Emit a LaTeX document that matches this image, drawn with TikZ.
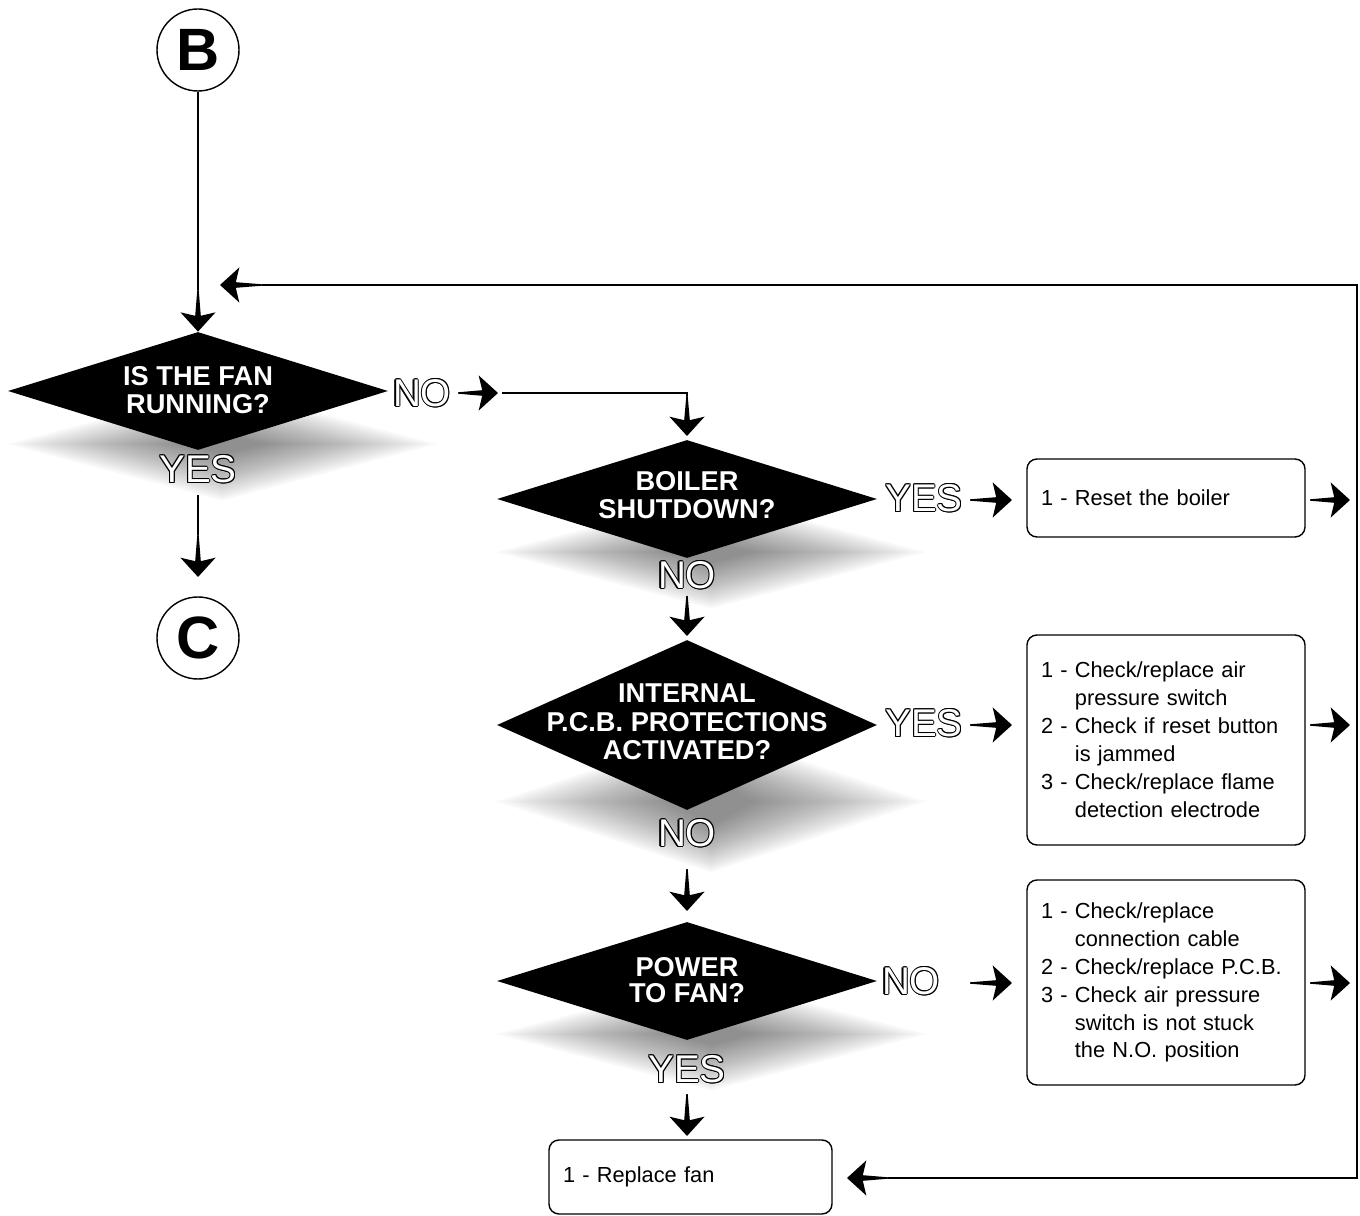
\documentclass[tikz,border=0pt]{standalone}
\usepackage{fontspec}
\setmainfont{Liberation Sans}
\usetikzlibrary{positioning,arrows.meta,shapes.geometric,calc,backgrounds}
\newcommand{\hollow}[1]{{\setbox0=\hbox{#1}%
  \rlap{\kern.6pt\copy0}\rlap{\kern-.6pt\copy0}%
  \rlap{\raise.6pt\copy0}\rlap{\raise-.6pt\copy0}%
  \rlap{\kern.42pt\raise.42pt\copy0}\rlap{\kern-.42pt\raise.42pt\copy0}%
  \rlap{\kern.42pt\raise-.42pt\copy0}\rlap{\kern-.42pt\raise-.42pt\copy0}%
  \textcolor{white}{#1}}}
\newcommand{\ind}{\hphantom{1 - }}

\begin{document}
\begin{tikzpicture}[x=0.2mm,y=-0.2mm,
  ask/.style={diamond, fill=black, inner sep=0pt, minimum width=76mm},
  asktext/.style={text=white, align=center, font=\fontsize{15.5}{16.3}\selectfont\bfseries},
  ans/.style={inner sep=0pt, font=\fontsize{22}{22}\selectfont},
  todo/.style={draw, line width=0.8pt, rounded corners=2mm, align=left, text width=50mm,
    inner xsep=2.8mm, font=\fontsize{12.4}{15.9}\selectfont},
  ring/.style={circle, draw, line width=0.8pt, minimum size=16.4mm, inner sep=0pt,
    font=\fontsize{34}{34}\selectfont\bfseries},
  wire/.style={line width=0.8pt},
  % tapered arrow with a fat head, drawn as one filled outline
  stub/.style={fill=black, to path={
    let \p1=(\tikztostart), \p2=(\tikztotarget),
        \n1={atan2(\y2-\y1,\x2-\x1)}, \n2={veclen(\x2-\x1,\y2-\y1)} in
    [shift={(\p1)}, rotate=\n1]
    (0pt,-0.4pt) -- ({\n2*1pt-9pt},-1.6pt) -- ({\n2*1pt-11pt},-10pt) -- ({\n2*1pt},0pt)
    -- ({\n2*1pt-11pt},10pt) -- ({\n2*1pt-9pt},1.6pt) -- (0pt,0.4pt) -- cycle}}]
\useasboundingbox (0,0) rectangle (1360,1216);

\node[ring] (B) at (198,50) {B};
\node[ring] (C) at (198,638) {C};

\node[ask, minimum height=23.6mm] (fan) at (198,391) {};
\node[asktext] (fanq) at (198,390) {IS THE FAN\\RUNNING?};
\node[ask, minimum height=23.6mm] (stop) at (687,499) {};
\node[asktext] (stopq) at (687,495) {BOILER\\SHUTDOWN?};
\node[ask, minimum height=34mm] (prot) at (687,725) {};
\node[asktext] (protq) at (687,722) {INTERNAL\\P.C.B. PROTECTIONS\\ACTIVATED?};
\node[ask, minimum height=23.6mm] (power) at (687,981) {};
\node[asktext, font=\fontsize{15.5}{14.5}\selectfont\bfseries] (powerq) at (687,980) {POWER\\TO FAN?};

% soft shadows under the questions
\begin{scope}[on background layer]
\foreach \d/\hh in {fan/59,stop/59,prot/85,power/59}{
  \begin{scope}[shift={($(\d)+(24,{0.9*\hh})$)}]
    \foreach \i in {0,...,23}
      \fill[black, opacity=0.022] ({-(215-7.5*\i)},0) -- (0,{-(0.55*\hh+24-2*\i)})
        -- ({215-7.5*\i},0) -- (0,{0.55*\hh+24-2*\i}) -- cycle;
  \end{scope}
}
\end{scope}

\node[ans] (fanno) at (422,393) {\hollow{NO}};
\node[ans] (fanyes) at (198,469) {\hollow{YES}};
\node[ans] (stopyes) at (924,498) {\hollow{YES}};
\node[ans] (stopno) at (687,575) {\hollow{NO}};
\node[ans] (protyes) at (924,723) {\hollow{YES}};
\node[ans] (protno) at (687,833) {\hollow{NO}};
\node[ans] (powerno) at (911,981) {\hollow{NO}};
\node[ans] (poweryes) at (687,1069) {\hollow{YES}};

\node[todo, minimum height=15.6mm] (reset) at (1166,498) {1 - Reset the boiler};
\node[todo, minimum height=42mm] (pcb) at (1166,740) {1 - Check/replace air\\
  \ind pressure switch\\2 - Check if reset button\\\ind is jammed\\
  3 - Check/replace flame\\\ind detection electrode};
\node[todo, minimum height=41mm] (cable) at (1166,982.5) {1 - Check/replace\\
  \ind connection cable\\2 - Check/replace P.C.B.\\3 - Check air pressure\\
  \ind switch is not stuck\\\ind the N.O. position};
\node[todo, text width=51mm, minimum height=14.8mm] (newfan) at (690.5,1177) {1 - Replace fan};

\coordinate (bh) at (198,290);
\coordinate (n0) at (458,393);
\coordinate (n1) at (498,393);
\coordinate (n2) at (502,393);
\coordinate (ka) at (687,396);
\coordinate (kb) at (687,436);
\coordinate (y0) at (198,495);
\coordinate (yh) at (198,535);
\coordinate (y1) at (198,577);
\coordinate (a0) at (687,596);
\coordinate (a1) at (687,636);
\coordinate (b0) at (687,869);
\coordinate (b1) at (687,911);
\coordinate (c0) at (687,1094);
\coordinate (c1) at (687,1136);
\coordinate (r0) at (888,1178);
\coordinate (r1) at (847,1178);
\coordinate (corner) at (1357,285);
\coordinate (lp) at (262,285);
\coordinate (loopin) at (220,285);

\draw[wire] (B) -- (bh);
\fill[stub] (bh) to (fan.north);
\fill[stub] (n0) to (n1);
\draw[wire] (n2) -| (ka);
\fill[stub] (ka) to (kb);
\draw[wire] (y0) -- (yh);
\fill[stub] (yh) to (y1);

\fill[stub] (a0) to (a1);
\fill[stub] (b0) to (b1);
\fill[stub] (c0) to (c1);

\foreach \y/\k in {500/a,725/b,983/c}{
  \coordinate (go\k) at (970,\y);
  \coordinate (box\k) at (1012,\y);
  \coordinate (out\k) at (1310,\y);
  \coordinate (end\k) at (1350,\y);
  \fill[stub] (go\k) to (box\k);
  \fill[stub] (out\k) to (end\k);
}

\fill[stub] (r0) to (r1);
\draw[wire] (r0) -| (corner) -- (lp);
\fill[stub] (lp) to (loopin);
\end{tikzpicture}
\end{document}
